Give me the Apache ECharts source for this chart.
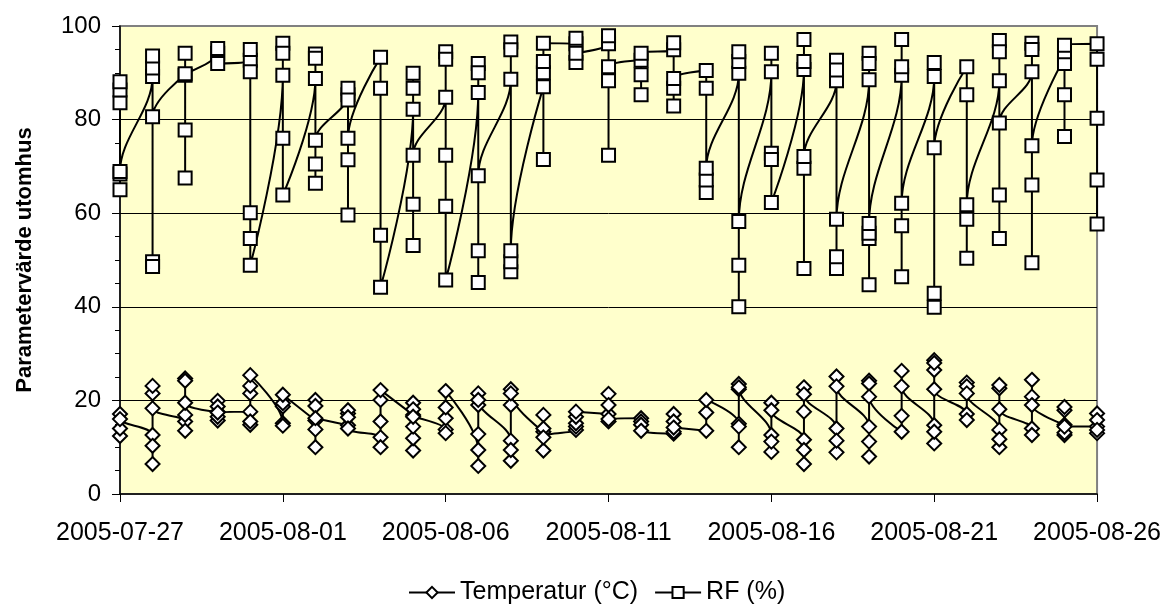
<!DOCTYPE html>
<html><head><meta charset="utf-8">
<script src="https://cdn.jsdelivr.net/npm/echarts@6/dist/echarts.min.js"></script>
<style>html,body{margin:0;padding:0;background:#fff}#c{width:1164px;height:610px}</style>
</head><body><div id="c"></div>
<script>
const dates = ['2005-07-27','2005-07-28','2005-07-29','2005-07-30','2005-07-31',
  '2005-08-01','2005-08-02','2005-08-03','2005-08-04','2005-08-05',
  '2005-08-06','2005-08-07','2005-08-08','2005-08-09','2005-08-10',
  '2005-08-11','2005-08-12','2005-08-13','2005-08-14','2005-08-15',
  '2005-08-16','2005-08-17','2005-08-18','2005-08-19','2005-08-20',
  '2005-08-21','2005-08-22','2005-08-23','2005-08-24','2005-08-25','2005-08-26'];

const yTicks = [0, 20, 40, 60, 80, 100];

// Temperatur (°C): readings per day, in reading order
const tempByDay = [
 [12.4, 14.0, 17.1, 16.0],
 [12.6, 6.4, 10.3, 21.5, 23.1, 18.3],
 [15.5, 13.5, 16.9, 24.7, 24.2, 19.5],
 [17.6, 19.9, 18.7, 15.7, 16.5, 17.4],
 [17.6, 14.8, 15.5, 21.5, 23.1, 25.4],
 [15.1, 14.6, 18.7, 19.4, 21.2],
 [15.7, 20.1, 18.8, 10.0, 13.8, 16.2],
 [14.7, 17.2, 17.9, 16.4, 14.0],
 [12.1, 10.0, 15.5, 20.1, 22.2],
 [16.9, 19.5, 18.1, 9.3, 11.9, 14.4, 16.5],
 [13.8, 13.0, 16.2, 18.5, 22.0],
 [9.4, 6.0, 12.8, 19.0, 21.5, 20.1],
 [11.4, 7.1, 9.4, 19.0, 22.4, 21.5],
 [13.3, 16.9, 14.0, 9.3, 12.1],
 [13.7, 14.4, 15.1, 16.5, 17.6],
 [17.1, 21.4, 19.0, 15.5, 16.0],
 [16.2, 15.5, 14.8, 13.5],
 [12.9, 17.1, 15.5, 13.3, 14.2],
 [13.5, 17.4, 20.1],
 [15.0, 10.0, 14.4, 22.4, 23.5, 22.8],
 [12.6, 9.0, 11.2, 19.5, 17.9],
 [11.6, 6.4, 9.4, 17.6, 22.8, 21.3],
 [14.0, 8.9, 11.4, 25.1, 23.0],
 [14.4, 8.0, 11.2, 24.2, 23.6, 20.8],
 [13.3, 16.7, 26.3, 23.0],
 [14.7, 10.8, 13.3, 26.5, 28.6, 28.0, 22.4],
 [17.1, 15.8, 23.8, 23.0, 21.5],
 [13.7, 10.0, 11.7, 22.6, 23.3, 18.1],
 [14.0, 12.6, 24.4, 20.8, 19.0],
 [14.8, 17.9, 18.6, 12.6, 13.1, 14.4],
 [14.4, 17.2, 15.8, 13.0, 13.7]
];

// RF (%): readings per day, in reading order
const rfByDay = [
 [65.0, 83.6, 86.3, 88.1, 68.4, 68.9],
 [89.2, 91.0, 93.6, 49.6, 48.6, 80.6],
 [89.5, 77.8, 67.5, 94.2, 89.8],
 [94.2, 95.2, 92.0],
 [92.7, 95.0, 90.2, 60.1, 54.6, 48.9],
 [89.5, 96.3, 94.2, 76.0, 63.9],
 [88.8, 94.0, 93.1, 66.4, 70.5, 75.6],
 [85.3, 86.7, 84.2, 59.6, 71.4, 76.0],
 [93.3, 86.7, 55.3, 44.2],
 [82.2, 89.9, 86.7, 53.1, 61.9, 72.4],
 [84.8, 94.5, 92.9, 72.4, 61.5, 45.7],
 [85.8, 92.0, 90.0, 45.2, 52.0, 68.0],
 [88.6, 96.6, 94.9, 47.5, 49.6, 52.0],
 [87.0, 71.5, 90.0, 92.4, 96.3],
 [96.2, 92.2, 97.4, 94.2],
 [96.2, 97.9, 72.4, 88.3, 91.3],
 [92.7, 85.3, 89.6, 94.2],
 [94.9, 96.4, 82.9, 86.7, 88.8],
 [90.5, 86.7, 64.4, 67.1, 69.6],
 [89.9, 92.4, 94.5, 40.0, 48.9, 58.2],
 [90.2, 94.2, 72.8, 71.5, 62.3],
 [90.7, 97.1, 92.4, 48.2, 69.6, 72.1],
 [88.3, 92.7, 90.6, 48.2, 50.7, 58.7],
 [88.5, 94.2, 92.0, 44.7, 54.6, 55.7, 57.8],
 [89.5, 97.1, 91.3, 46.4, 57.3, 62.1],
 [89.2, 92.2, 39.9, 42.9, 74.0],
 [91.3, 85.3, 50.4, 58.7, 61.8],
 [88.3, 96.9, 94.5, 54.6, 63.9, 79.3],
 [90.2, 96.3, 95.0, 49.4, 66.0, 74.4],
 [93.1, 85.3, 76.4, 92.0, 94.5, 95.9],
 [96.2, 92.9, 57.7, 67.1, 80.3]
];

const seriesNames = ['Temperatur (°C)', 'RF (%)'];

function toPoints(byDay) {
  const pts = [];
  byDay.forEach((vals, d) => vals.forEach(v => pts.push([d, v])));
  return pts;
}

const FONT = "'Liberation Sans', Arial, sans-serif";
const chart = echarts.init(document.getElementById('c'), null, {renderer: 'canvas'});

const markerStyle = {color: '#ffffff', borderColor: '#000000', borderWidth: 2};

chart.setOption({
  animation: false,
  backgroundColor: '#ffffff',
  textStyle: {fontFamily: FONT, color: '#000'},
  grid: {left: 120, right: 66, top: 26, bottom: 116, show: true,
         backgroundColor: '#FFFFCC', borderColor: '#808080', borderWidth: 2},
  legend: {
    bottom: 0, left: 403, itemWidth: 46, itemHeight: 14, itemGap: 16,
    textStyle: {fontFamily: FONT, fontSize: 25, color: '#000'},
    data: seriesNames
  },
  xAxis: {
    type: 'value', min: 0, max: dates.length - 1, interval: 5,
    axisLine: {lineStyle: {color: '#000', width: 1.5}},
    axisTick: {show: true, length: 8, lineStyle: {color: '#000'}},
    splitLine: {show: false},
    axisLabel: {fontFamily: FONT, fontSize: 25, color: '#000', margin: 27,
      formatter: v => dates[v] || ''}
  },
  yAxis: {
    type: 'value', min: yTicks[0], max: yTicks[yTicks.length - 1], interval: 20,
    name: 'Parametervärde utomhus', nameLocation: 'middle', nameGap: 84,
    nameTextStyle: {fontFamily: FONT, fontSize: 22, fontWeight: 'bold', color: '#000'},
    axisLine: {show: true, lineStyle: {color: '#000', width: 1.5}},
    axisTick: {show: true, length: 8, lineStyle: {color: '#000'}},
    minorTick: {show: true, splitNumber: 4, length: 5, lineStyle: {color: '#000'}},
    splitLine: {show: true, showMaxLine: false, showMinLine: false, lineStyle: {color: '#000', width: 1}},
    axisLabel: {fontFamily: FONT, fontSize: 24, color: '#000', margin: 19}
  },
  series: [
    {
      name: seriesNames[0], type: 'line', data: toPoints(tempByDay),
      smooth: 0.35, symbol: 'diamond', symbolSize: 14,
      lineStyle: {color: '#000', width: 2},
      itemStyle: markerStyle, z: 3
    },
    {
      name: seriesNames[1], type: 'line', data: toPoints(rfByDay),
      smooth: 0.35, symbol: 'rect', symbolSize: 13,
      lineStyle: {color: '#000', width: 2},
      itemStyle: markerStyle, z: 4
    }
  ]
});
</script>
</body></html>
